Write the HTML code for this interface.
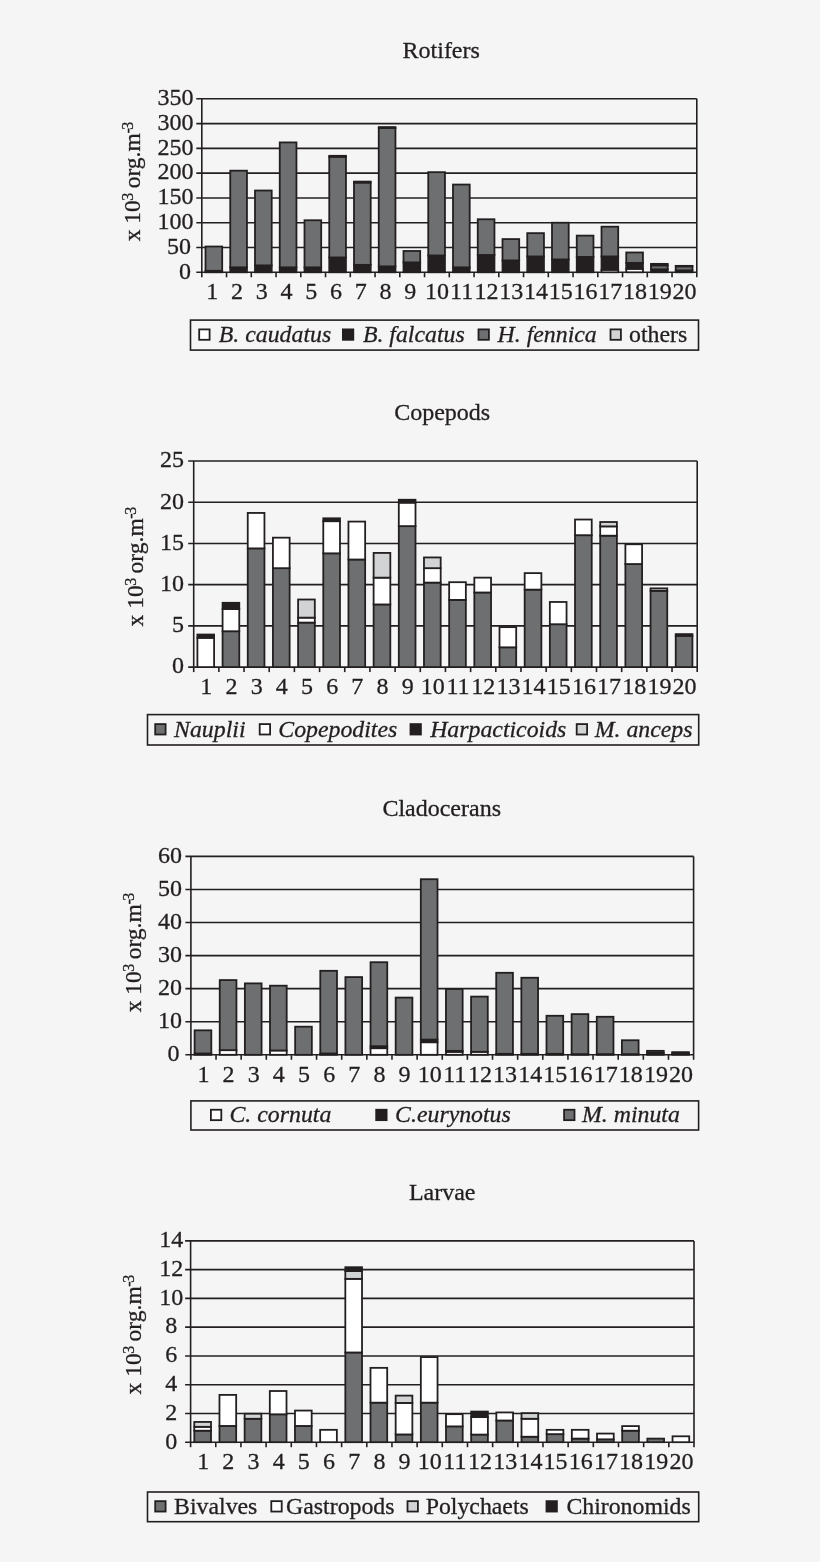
<!DOCTYPE html>
<html><head><meta charset="utf-8"><style>
html,body{margin:0;padding:0;background:#f5f5f5;}
svg{display:block;will-change:transform;}
.t{font-family:"Liberation Serif", serif;font-size:23.5px;fill:#231f20;}
.ti{font-family:"Liberation Serif", serif;font-size:23.8px;font-style:italic;fill:#231f20;}
.lt{font-family:"Liberation Serif", serif;font-size:23.8px;fill:#231f20;}
.sup{font-size:16px;}
.tt{font-family:"Liberation Serif", serif;font-size:24px;fill:#231f20;}
.tk{font-family:"Liberation Serif", serif;font-size:24px;fill:#231f20;}
.s{stroke:#231f20;stroke-width:1.6;}
.b{stroke:#231f20;stroke-width:1.8;}
.lb{stroke:#231f20;stroke-width:1.6;}
.lm{stroke:#231f20;stroke-width:1.8;}
text{stroke:#231f20;stroke-width:0.3px;}
</style></head><body>
<svg width="820" height="1562" viewBox="0 0 820 1562">
<rect width="820" height="1562" fill="#f5f5f5"/>
<text x="441.2" y="57.8" text-anchor="middle" class="tt">Rotifers</text>
<line x1="196.3" y1="272.3" x2="696.8" y2="272.3" class="s"/>
<text x="190.9" y="278.6" text-anchor="end" class="tk">0</text>
<line x1="196.3" y1="247.51" x2="696.8" y2="247.51" class="s"/>
<text x="190.9" y="253.81" text-anchor="end" class="tk">50</text>
<line x1="196.3" y1="222.73" x2="696.8" y2="222.73" class="s"/>
<text x="193.5" y="229.03" text-anchor="end" class="tk">100</text>
<line x1="196.3" y1="197.94" x2="696.8" y2="197.94" class="s"/>
<text x="193.5" y="204.24" text-anchor="end" class="tk">150</text>
<line x1="196.3" y1="173.16" x2="696.8" y2="173.16" class="s"/>
<text x="193.5" y="179.46" text-anchor="end" class="tk">200</text>
<line x1="196.3" y1="148.37" x2="696.8" y2="148.37" class="s"/>
<text x="193.5" y="154.67" text-anchor="end" class="tk">250</text>
<line x1="196.3" y1="123.59" x2="696.8" y2="123.59" class="s"/>
<text x="193.5" y="129.89" text-anchor="end" class="tk">300</text>
<line x1="196.3" y1="98.8" x2="696.8" y2="98.8" class="s"/>
<text x="193.5" y="105.1" text-anchor="end" class="tk">350</text>
<line x1="201.8" y1="98.8" x2="201.8" y2="277.3" class="s"/>
<line x1="696.8" y1="98.8" x2="696.8" y2="277.3" class="s"/>
<line x1="226.55" y1="272.3" x2="226.55" y2="277.3" class="s"/>
<line x1="251.3" y1="272.3" x2="251.3" y2="277.3" class="s"/>
<line x1="276.05" y1="272.3" x2="276.05" y2="277.3" class="s"/>
<line x1="300.8" y1="272.3" x2="300.8" y2="277.3" class="s"/>
<line x1="325.55" y1="272.3" x2="325.55" y2="277.3" class="s"/>
<line x1="350.3" y1="272.3" x2="350.3" y2="277.3" class="s"/>
<line x1="375.05" y1="272.3" x2="375.05" y2="277.3" class="s"/>
<line x1="399.8" y1="272.3" x2="399.8" y2="277.3" class="s"/>
<line x1="424.55" y1="272.3" x2="424.55" y2="277.3" class="s"/>
<line x1="449.3" y1="272.3" x2="449.3" y2="277.3" class="s"/>
<line x1="474.05" y1="272.3" x2="474.05" y2="277.3" class="s"/>
<line x1="498.8" y1="272.3" x2="498.8" y2="277.3" class="s"/>
<line x1="523.55" y1="272.3" x2="523.55" y2="277.3" class="s"/>
<line x1="548.3" y1="272.3" x2="548.3" y2="277.3" class="s"/>
<line x1="573.05" y1="272.3" x2="573.05" y2="277.3" class="s"/>
<line x1="597.8" y1="272.3" x2="597.8" y2="277.3" class="s"/>
<line x1="622.55" y1="272.3" x2="622.55" y2="277.3" class="s"/>
<line x1="647.3" y1="272.3" x2="647.3" y2="277.3" class="s"/>
<line x1="672.05" y1="272.3" x2="672.05" y2="277.3" class="s"/>
<rect x="205.5" y="270.81" width="16.7" height="1.49" fill="#231f20" class="b"/>
<rect x="205.5" y="246.52" width="16.7" height="24.29" fill="#6e6f70" class="b"/>
<rect x="230.25" y="267.34" width="16.7" height="4.96" fill="#231f20" class="b"/>
<rect x="230.25" y="170.68" width="16.7" height="96.66" fill="#6e6f70" class="b"/>
<rect x="255" y="265.36" width="16.7" height="6.94" fill="#231f20" class="b"/>
<rect x="255" y="190.51" width="16.7" height="74.85" fill="#6e6f70" class="b"/>
<rect x="279.75" y="267.34" width="16.7" height="4.96" fill="#231f20" class="b"/>
<rect x="279.75" y="142.42" width="16.7" height="124.92" fill="#6e6f70" class="b"/>
<rect x="304.5" y="267.34" width="16.7" height="4.96" fill="#231f20" class="b"/>
<rect x="304.5" y="220.25" width="16.7" height="47.09" fill="#6e6f70" class="b"/>
<rect x="329.25" y="257.43" width="16.7" height="14.87" fill="#231f20" class="b"/>
<rect x="329.25" y="156.8" width="16.7" height="100.63" fill="#6e6f70" class="b"/>
<rect x="329.25" y="155.81" width="16.7" height="0.99" fill="#d1d3d4" class="b"/>
<rect x="354" y="264.86" width="16.7" height="7.44" fill="#231f20" class="b"/>
<rect x="354" y="182.58" width="16.7" height="82.29" fill="#6e6f70" class="b"/>
<rect x="354" y="181.58" width="16.7" height="0.99" fill="#d1d3d4" class="b"/>
<rect x="378.75" y="266.35" width="16.7" height="5.95" fill="#231f20" class="b"/>
<rect x="378.75" y="128.05" width="16.7" height="138.3" fill="#6e6f70" class="b"/>
<rect x="378.75" y="127.06" width="16.7" height="0.99" fill="#d1d3d4" class="b"/>
<rect x="403.5" y="262.39" width="16.7" height="9.91" fill="#231f20" class="b"/>
<rect x="403.5" y="250.98" width="16.7" height="11.4" fill="#6e6f70" class="b"/>
<rect x="428.25" y="255.45" width="16.7" height="16.85" fill="#231f20" class="b"/>
<rect x="428.25" y="172.17" width="16.7" height="83.28" fill="#6e6f70" class="b"/>
<rect x="453" y="267.34" width="16.7" height="4.96" fill="#231f20" class="b"/>
<rect x="453" y="184.56" width="16.7" height="82.78" fill="#6e6f70" class="b"/>
<rect x="477.75" y="254.95" width="16.7" height="17.35" fill="#231f20" class="b"/>
<rect x="477.75" y="219.26" width="16.7" height="35.69" fill="#6e6f70" class="b"/>
<rect x="502.5" y="260.4" width="16.7" height="11.9" fill="#231f20" class="b"/>
<rect x="502.5" y="239.09" width="16.7" height="21.32" fill="#6e6f70" class="b"/>
<rect x="527.25" y="256.44" width="16.7" height="15.86" fill="#231f20" class="b"/>
<rect x="527.25" y="233.14" width="16.7" height="23.3" fill="#6e6f70" class="b"/>
<rect x="552" y="259.41" width="16.7" height="12.89" fill="#231f20" class="b"/>
<rect x="552" y="222.73" width="16.7" height="36.68" fill="#6e6f70" class="b"/>
<rect x="576.75" y="256.93" width="16.7" height="15.37" fill="#231f20" class="b"/>
<rect x="576.75" y="235.62" width="16.7" height="21.32" fill="#6e6f70" class="b"/>
<rect x="601.5" y="269.82" width="16.7" height="2.48" fill="#ffffff" class="b"/>
<rect x="601.5" y="256.44" width="16.7" height="13.38" fill="#231f20" class="b"/>
<rect x="601.5" y="226.69" width="16.7" height="29.74" fill="#6e6f70" class="b"/>
<rect x="626.25" y="268.83" width="16.7" height="3.47" fill="#ffffff" class="b"/>
<rect x="626.25" y="262.88" width="16.7" height="5.95" fill="#231f20" class="b"/>
<rect x="626.25" y="252.47" width="16.7" height="10.41" fill="#6e6f70" class="b"/>
<rect x="651" y="269.33" width="16.7" height="2.97" fill="#231f20" class="b"/>
<rect x="651" y="265.36" width="16.7" height="3.97" fill="#6e6f70" class="b"/>
<rect x="651" y="263.87" width="16.7" height="1.49" fill="#d1d3d4" class="b"/>
<rect x="675.75" y="270.32" width="16.7" height="1.98" fill="#231f20" class="b"/>
<rect x="675.75" y="266.35" width="16.7" height="3.97" fill="#6e6f70" class="b"/>
<rect x="675.75" y="265.86" width="16.7" height="0.5" fill="#d1d3d4" class="b"/>
<text x="212.18" y="298.8" text-anchor="middle" class="tk">1</text>
<text x="236.93" y="298.8" text-anchor="middle" class="tk">2</text>
<text x="261.68" y="298.8" text-anchor="middle" class="tk">3</text>
<text x="286.43" y="298.8" text-anchor="middle" class="tk">4</text>
<text x="311.18" y="298.8" text-anchor="middle" class="tk">5</text>
<text x="335.92" y="298.8" text-anchor="middle" class="tk">6</text>
<text x="360.67" y="298.8" text-anchor="middle" class="tk">7</text>
<text x="385.42" y="298.8" text-anchor="middle" class="tk">8</text>
<text x="410.17" y="298.8" text-anchor="middle" class="tk">9</text>
<text x="436.92" y="298.8" text-anchor="middle" class="tk">10</text>
<text x="461.67" y="298.8" text-anchor="middle" class="tk">11</text>
<text x="486.42" y="298.8" text-anchor="middle" class="tk">12</text>
<text x="511.17" y="298.8" text-anchor="middle" class="tk">13</text>
<text x="535.92" y="298.8" text-anchor="middle" class="tk">14</text>
<text x="560.67" y="298.8" text-anchor="middle" class="tk">15</text>
<text x="585.42" y="298.8" text-anchor="middle" class="tk">16</text>
<text x="610.17" y="298.8" text-anchor="middle" class="tk">17</text>
<text x="634.92" y="298.8" text-anchor="middle" class="tk">18</text>
<text x="659.67" y="298.8" text-anchor="middle" class="tk">19</text>
<text x="684.42" y="298.8" text-anchor="middle" class="tk">20</text>
<text transform="translate(140.1,241.3) rotate(-90)" x="0" y="0" class="t">x 10<tspan class="sup" dy="-7" dx="-0.5">3</tspan><tspan dy="7" dx="-1.5"> org.m</tspan><tspan class="sup" dy="-7" dx="-0.3" letter-spacing="-1.5">-3</tspan></text>
<rect x="190.5" y="320.1" width="508" height="30" fill="none" class="lb"/>
<rect x="199.2" y="329.4" width="10.4" height="10.4" fill="#ffffff" class="lm"/>
<text x="218.8" y="341.9" class="ti">B. caudatus</text>
<rect x="342.9" y="329.4" width="10.4" height="10.4" fill="#231f20" class="lm"/>
<text x="362.9" y="341.9" class="ti">B. falcatus</text>
<rect x="478.5" y="329.4" width="10.4" height="10.4" fill="#6e6f70" class="lm"/>
<text x="497.6" y="341.9" class="ti">H. fennica</text>
<rect x="610.5" y="329.4" width="10.4" height="10.4" fill="#d1d3d4" class="lm"/>
<text x="629" y="341.9" class="lt">others</text>
<text x="442.2" y="419.7" text-anchor="middle" class="tt">Copepods</text>
<line x1="188.2" y1="667.1" x2="697.2" y2="667.1" class="s"/>
<text x="183.9" y="673.4" text-anchor="end" class="tk">0</text>
<line x1="188.2" y1="625.88" x2="697.2" y2="625.88" class="s"/>
<text x="183.9" y="632.18" text-anchor="end" class="tk">5</text>
<line x1="188.2" y1="584.66" x2="697.2" y2="584.66" class="s"/>
<text x="183.9" y="590.96" text-anchor="end" class="tk">10</text>
<line x1="188.2" y1="543.44" x2="697.2" y2="543.44" class="s"/>
<text x="183.9" y="549.74" text-anchor="end" class="tk">15</text>
<line x1="188.2" y1="502.22" x2="697.2" y2="502.22" class="s"/>
<text x="183.9" y="508.52" text-anchor="end" class="tk">20</text>
<line x1="188.2" y1="461" x2="697.2" y2="461" class="s"/>
<text x="183.9" y="467.3" text-anchor="end" class="tk">25</text>
<line x1="193.7" y1="461" x2="193.7" y2="672.1" class="s"/>
<line x1="697.2" y1="461" x2="697.2" y2="672.1" class="s"/>
<line x1="218.88" y1="667.1" x2="218.88" y2="672.1" class="s"/>
<line x1="244.05" y1="667.1" x2="244.05" y2="672.1" class="s"/>
<line x1="269.23" y1="667.1" x2="269.23" y2="672.1" class="s"/>
<line x1="294.4" y1="667.1" x2="294.4" y2="672.1" class="s"/>
<line x1="319.58" y1="667.1" x2="319.58" y2="672.1" class="s"/>
<line x1="344.75" y1="667.1" x2="344.75" y2="672.1" class="s"/>
<line x1="369.93" y1="667.1" x2="369.93" y2="672.1" class="s"/>
<line x1="395.1" y1="667.1" x2="395.1" y2="672.1" class="s"/>
<line x1="420.28" y1="667.1" x2="420.28" y2="672.1" class="s"/>
<line x1="445.45" y1="667.1" x2="445.45" y2="672.1" class="s"/>
<line x1="470.63" y1="667.1" x2="470.63" y2="672.1" class="s"/>
<line x1="495.8" y1="667.1" x2="495.8" y2="672.1" class="s"/>
<line x1="520.98" y1="667.1" x2="520.98" y2="672.1" class="s"/>
<line x1="546.15" y1="667.1" x2="546.15" y2="672.1" class="s"/>
<line x1="571.33" y1="667.1" x2="571.33" y2="672.1" class="s"/>
<line x1="596.5" y1="667.1" x2="596.5" y2="672.1" class="s"/>
<line x1="621.68" y1="667.1" x2="621.68" y2="672.1" class="s"/>
<line x1="646.85" y1="667.1" x2="646.85" y2="672.1" class="s"/>
<line x1="672.03" y1="667.1" x2="672.03" y2="672.1" class="s"/>
<rect x="197.4" y="637.83" width="16.7" height="29.27" fill="#ffffff" class="b"/>
<rect x="197.4" y="634.54" width="16.7" height="3.3" fill="#231f20" class="b"/>
<rect x="222.58" y="631.24" width="16.7" height="35.86" fill="#6e6f70" class="b"/>
<rect x="222.58" y="608.98" width="16.7" height="22.26" fill="#ffffff" class="b"/>
<rect x="222.58" y="602.8" width="16.7" height="6.18" fill="#231f20" class="b"/>
<rect x="247.75" y="548.39" width="16.7" height="118.71" fill="#6e6f70" class="b"/>
<rect x="247.75" y="512.94" width="16.7" height="35.45" fill="#ffffff" class="b"/>
<rect x="272.93" y="568.17" width="16.7" height="98.93" fill="#6e6f70" class="b"/>
<rect x="272.93" y="537.67" width="16.7" height="30.5" fill="#ffffff" class="b"/>
<rect x="298.1" y="622.58" width="16.7" height="44.52" fill="#6e6f70" class="b"/>
<rect x="298.1" y="617.64" width="16.7" height="4.95" fill="#ffffff" class="b"/>
<rect x="298.1" y="599.5" width="16.7" height="18.14" fill="#d1d3d4" class="b"/>
<rect x="323.28" y="553.33" width="16.7" height="113.77" fill="#6e6f70" class="b"/>
<rect x="323.28" y="521.18" width="16.7" height="32.15" fill="#ffffff" class="b"/>
<rect x="323.28" y="518.3" width="16.7" height="2.89" fill="#231f20" class="b"/>
<rect x="348.45" y="559.52" width="16.7" height="107.58" fill="#6e6f70" class="b"/>
<rect x="348.45" y="521.59" width="16.7" height="37.92" fill="#ffffff" class="b"/>
<rect x="373.62" y="604.45" width="16.7" height="62.65" fill="#6e6f70" class="b"/>
<rect x="373.62" y="577.65" width="16.7" height="26.79" fill="#ffffff" class="b"/>
<rect x="373.62" y="552.92" width="16.7" height="24.73" fill="#d1d3d4" class="b"/>
<rect x="398.8" y="526.13" width="16.7" height="140.97" fill="#6e6f70" class="b"/>
<rect x="398.8" y="502.63" width="16.7" height="23.5" fill="#ffffff" class="b"/>
<rect x="398.8" y="499.75" width="16.7" height="2.89" fill="#231f20" class="b"/>
<rect x="423.98" y="582.6" width="16.7" height="84.5" fill="#6e6f70" class="b"/>
<rect x="423.98" y="568.17" width="16.7" height="14.43" fill="#ffffff" class="b"/>
<rect x="423.98" y="557.45" width="16.7" height="10.72" fill="#d1d3d4" class="b"/>
<rect x="449.15" y="599.91" width="16.7" height="67.19" fill="#6e6f70" class="b"/>
<rect x="449.15" y="582.19" width="16.7" height="17.72" fill="#ffffff" class="b"/>
<rect x="474.33" y="592.49" width="16.7" height="74.61" fill="#6e6f70" class="b"/>
<rect x="474.33" y="577.65" width="16.7" height="14.84" fill="#ffffff" class="b"/>
<rect x="499.5" y="647.31" width="16.7" height="19.79" fill="#6e6f70" class="b"/>
<rect x="499.5" y="627.12" width="16.7" height="20.2" fill="#ffffff" class="b"/>
<rect x="524.67" y="589.61" width="16.7" height="77.49" fill="#6e6f70" class="b"/>
<rect x="524.67" y="573.12" width="16.7" height="16.49" fill="#ffffff" class="b"/>
<rect x="549.85" y="624.23" width="16.7" height="42.87" fill="#6e6f70" class="b"/>
<rect x="549.85" y="601.97" width="16.7" height="22.26" fill="#ffffff" class="b"/>
<rect x="575.02" y="535.2" width="16.7" height="131.9" fill="#6e6f70" class="b"/>
<rect x="575.02" y="519.53" width="16.7" height="15.66" fill="#ffffff" class="b"/>
<rect x="600.2" y="535.69" width="16.7" height="131.41" fill="#6e6f70" class="b"/>
<rect x="600.2" y="526.37" width="16.7" height="9.32" fill="#ffffff" class="b"/>
<rect x="600.2" y="522.01" width="16.7" height="4.37" fill="#d1d3d4" class="b"/>
<rect x="625.38" y="564.05" width="16.7" height="103.05" fill="#6e6f70" class="b"/>
<rect x="625.38" y="544.26" width="16.7" height="19.79" fill="#ffffff" class="b"/>
<rect x="650.55" y="590.84" width="16.7" height="76.26" fill="#6e6f70" class="b"/>
<rect x="650.55" y="588.37" width="16.7" height="2.47" fill="#d1d3d4" class="b"/>
<rect x="675.73" y="635.77" width="16.7" height="31.33" fill="#6e6f70" class="b"/>
<rect x="675.73" y="634.12" width="16.7" height="1.65" fill="#231f20" class="b"/>
<text x="206.29" y="693.6" text-anchor="middle" class="tk">1</text>
<text x="231.46" y="693.6" text-anchor="middle" class="tk">2</text>
<text x="256.64" y="693.6" text-anchor="middle" class="tk">3</text>
<text x="281.81" y="693.6" text-anchor="middle" class="tk">4</text>
<text x="306.99" y="693.6" text-anchor="middle" class="tk">5</text>
<text x="332.16" y="693.6" text-anchor="middle" class="tk">6</text>
<text x="357.34" y="693.6" text-anchor="middle" class="tk">7</text>
<text x="382.51" y="693.6" text-anchor="middle" class="tk">8</text>
<text x="407.69" y="693.6" text-anchor="middle" class="tk">9</text>
<text x="432.86" y="693.6" text-anchor="middle" class="tk">10</text>
<text x="458.04" y="693.6" text-anchor="middle" class="tk">11</text>
<text x="483.21" y="693.6" text-anchor="middle" class="tk">12</text>
<text x="508.39" y="693.6" text-anchor="middle" class="tk">13</text>
<text x="533.56" y="693.6" text-anchor="middle" class="tk">14</text>
<text x="558.74" y="693.6" text-anchor="middle" class="tk">15</text>
<text x="583.91" y="693.6" text-anchor="middle" class="tk">16</text>
<text x="609.09" y="693.6" text-anchor="middle" class="tk">17</text>
<text x="634.26" y="693.6" text-anchor="middle" class="tk">18</text>
<text x="659.44" y="693.6" text-anchor="middle" class="tk">19</text>
<text x="684.61" y="693.6" text-anchor="middle" class="tk">20</text>
<text transform="translate(143.3,626.4) rotate(-90)" x="0" y="0" class="t">x 10<tspan class="sup" dy="-7" dx="-0.5">3</tspan><tspan dy="7" dx="-1.5"> org.m</tspan><tspan class="sup" dy="-7" dx="-0.3" letter-spacing="-1.5">-3</tspan></text>
<rect x="147.5" y="714.6" width="551.2" height="30.4" fill="none" class="lb"/>
<rect x="155.2" y="724.1" width="10.4" height="10.4" fill="#6e6f70" class="lm"/>
<text x="174.1" y="736.6" class="ti">Nauplii</text>
<rect x="259.7" y="724.1" width="10.4" height="10.4" fill="#ffffff" class="lm"/>
<text x="278.3" y="736.6" class="ti">Copepodites</text>
<rect x="410.5" y="724.1" width="10.4" height="10.4" fill="#231f20" class="lm"/>
<text x="430.2" y="736.6" class="ti">Harpacticoids</text>
<rect x="576.7" y="724.1" width="10.4" height="10.4" fill="#d1d3d4" class="lm"/>
<text x="594.7" y="736.6" class="ti">M. anceps</text>
<text x="441.7" y="815.6" text-anchor="middle" class="tt">Cladocerans</text>
<line x1="185.4" y1="1054.8" x2="693.6" y2="1054.8" class="s"/>
<text x="179.6" y="1061.1" text-anchor="end" class="tk">0</text>
<line x1="185.4" y1="1021.73" x2="693.6" y2="1021.73" class="s"/>
<text x="182.1" y="1028.03" text-anchor="end" class="tk">10</text>
<line x1="185.4" y1="988.67" x2="693.6" y2="988.67" class="s"/>
<text x="182.1" y="994.97" text-anchor="end" class="tk">20</text>
<line x1="185.4" y1="955.6" x2="693.6" y2="955.6" class="s"/>
<text x="182.1" y="961.9" text-anchor="end" class="tk">30</text>
<line x1="185.4" y1="922.53" x2="693.6" y2="922.53" class="s"/>
<text x="182.1" y="928.83" text-anchor="end" class="tk">40</text>
<line x1="185.4" y1="889.47" x2="693.6" y2="889.47" class="s"/>
<text x="182.1" y="895.77" text-anchor="end" class="tk">50</text>
<line x1="185.4" y1="856.4" x2="693.6" y2="856.4" class="s"/>
<text x="182.1" y="862.7" text-anchor="end" class="tk">60</text>
<line x1="190.9" y1="856.4" x2="190.9" y2="1059.8" class="s"/>
<line x1="693.6" y1="856.4" x2="693.6" y2="1059.8" class="s"/>
<line x1="216.03" y1="1054.8" x2="216.03" y2="1059.8" class="s"/>
<line x1="241.17" y1="1054.8" x2="241.17" y2="1059.8" class="s"/>
<line x1="266.31" y1="1054.8" x2="266.31" y2="1059.8" class="s"/>
<line x1="291.44" y1="1054.8" x2="291.44" y2="1059.8" class="s"/>
<line x1="316.58" y1="1054.8" x2="316.58" y2="1059.8" class="s"/>
<line x1="341.71" y1="1054.8" x2="341.71" y2="1059.8" class="s"/>
<line x1="366.85" y1="1054.8" x2="366.85" y2="1059.8" class="s"/>
<line x1="391.98" y1="1054.8" x2="391.98" y2="1059.8" class="s"/>
<line x1="417.12" y1="1054.8" x2="417.12" y2="1059.8" class="s"/>
<line x1="442.25" y1="1054.8" x2="442.25" y2="1059.8" class="s"/>
<line x1="467.38" y1="1054.8" x2="467.38" y2="1059.8" class="s"/>
<line x1="492.52" y1="1054.8" x2="492.52" y2="1059.8" class="s"/>
<line x1="517.65" y1="1054.8" x2="517.65" y2="1059.8" class="s"/>
<line x1="542.79" y1="1054.8" x2="542.79" y2="1059.8" class="s"/>
<line x1="567.93" y1="1054.8" x2="567.93" y2="1059.8" class="s"/>
<line x1="593.06" y1="1054.8" x2="593.06" y2="1059.8" class="s"/>
<line x1="618.2" y1="1054.8" x2="618.2" y2="1059.8" class="s"/>
<line x1="643.33" y1="1054.8" x2="643.33" y2="1059.8" class="s"/>
<line x1="668.47" y1="1054.8" x2="668.47" y2="1059.8" class="s"/>
<rect x="194.6" y="1053.48" width="16.7" height="1.32" fill="#231f20" class="b"/>
<rect x="194.6" y="1030.33" width="16.7" height="23.15" fill="#6e6f70" class="b"/>
<rect x="219.74" y="1050.17" width="16.7" height="4.63" fill="#ffffff" class="b"/>
<rect x="219.74" y="980.07" width="16.7" height="70.1" fill="#6e6f70" class="b"/>
<rect x="244.87" y="983.38" width="16.7" height="71.42" fill="#6e6f70" class="b"/>
<rect x="270" y="1050.5" width="16.7" height="4.3" fill="#ffffff" class="b"/>
<rect x="270" y="985.69" width="16.7" height="64.81" fill="#6e6f70" class="b"/>
<rect x="295.14" y="1026.69" width="16.7" height="28.11" fill="#6e6f70" class="b"/>
<rect x="320.28" y="1053.48" width="16.7" height="1.32" fill="#231f20" class="b"/>
<rect x="320.28" y="970.81" width="16.7" height="82.67" fill="#6e6f70" class="b"/>
<rect x="345.41" y="977.09" width="16.7" height="77.71" fill="#6e6f70" class="b"/>
<rect x="370.55" y="1048.19" width="16.7" height="6.61" fill="#ffffff" class="b"/>
<rect x="370.55" y="1046.2" width="16.7" height="1.98" fill="#231f20" class="b"/>
<rect x="370.55" y="962.21" width="16.7" height="83.99" fill="#6e6f70" class="b"/>
<rect x="395.68" y="997.59" width="16.7" height="57.21" fill="#6e6f70" class="b"/>
<rect x="420.81" y="1042.23" width="16.7" height="12.57" fill="#ffffff" class="b"/>
<rect x="420.81" y="1039.59" width="16.7" height="2.65" fill="#231f20" class="b"/>
<rect x="420.81" y="879.22" width="16.7" height="160.37" fill="#6e6f70" class="b"/>
<rect x="445.95" y="1051.82" width="16.7" height="2.98" fill="#ffffff" class="b"/>
<rect x="445.95" y="1050.83" width="16.7" height="0.99" fill="#231f20" class="b"/>
<rect x="445.95" y="989" width="16.7" height="61.83" fill="#6e6f70" class="b"/>
<rect x="471.08" y="1051.82" width="16.7" height="2.98" fill="#ffffff" class="b"/>
<rect x="471.08" y="996.6" width="16.7" height="55.22" fill="#6e6f70" class="b"/>
<rect x="496.22" y="1053.81" width="16.7" height="0.99" fill="#231f20" class="b"/>
<rect x="496.22" y="972.79" width="16.7" height="81.01" fill="#6e6f70" class="b"/>
<rect x="521.35" y="1053.81" width="16.7" height="0.99" fill="#231f20" class="b"/>
<rect x="521.35" y="977.75" width="16.7" height="76.05" fill="#6e6f70" class="b"/>
<rect x="546.49" y="1053.81" width="16.7" height="0.99" fill="#231f20" class="b"/>
<rect x="546.49" y="1015.78" width="16.7" height="38.03" fill="#6e6f70" class="b"/>
<rect x="571.62" y="1054.14" width="16.7" height="0.66" fill="#231f20" class="b"/>
<rect x="571.62" y="1014.13" width="16.7" height="40.01" fill="#6e6f70" class="b"/>
<rect x="596.76" y="1054.14" width="16.7" height="0.66" fill="#231f20" class="b"/>
<rect x="596.76" y="1016.77" width="16.7" height="37.37" fill="#6e6f70" class="b"/>
<rect x="621.89" y="1054.14" width="16.7" height="0.66" fill="#231f20" class="b"/>
<rect x="621.89" y="1040.25" width="16.7" height="13.89" fill="#6e6f70" class="b"/>
<rect x="647.03" y="1052.82" width="16.7" height="1.98" fill="#231f20" class="b"/>
<rect x="647.03" y="1050.83" width="16.7" height="1.98" fill="#6e6f70" class="b"/>
<rect x="672.16" y="1053.48" width="16.7" height="1.32" fill="#231f20" class="b"/>
<rect x="672.16" y="1052.15" width="16.7" height="1.32" fill="#6e6f70" class="b"/>
<text x="203.47" y="1082.3" text-anchor="middle" class="tk">1</text>
<text x="228.6" y="1082.3" text-anchor="middle" class="tk">2</text>
<text x="253.74" y="1082.3" text-anchor="middle" class="tk">3</text>
<text x="278.87" y="1082.3" text-anchor="middle" class="tk">4</text>
<text x="304.01" y="1082.3" text-anchor="middle" class="tk">5</text>
<text x="329.14" y="1082.3" text-anchor="middle" class="tk">6</text>
<text x="354.28" y="1082.3" text-anchor="middle" class="tk">7</text>
<text x="379.41" y="1082.3" text-anchor="middle" class="tk">8</text>
<text x="404.55" y="1082.3" text-anchor="middle" class="tk">9</text>
<text x="429.68" y="1082.3" text-anchor="middle" class="tk">10</text>
<text x="454.82" y="1082.3" text-anchor="middle" class="tk">11</text>
<text x="479.95" y="1082.3" text-anchor="middle" class="tk">12</text>
<text x="505.09" y="1082.3" text-anchor="middle" class="tk">13</text>
<text x="530.22" y="1082.3" text-anchor="middle" class="tk">14</text>
<text x="555.36" y="1082.3" text-anchor="middle" class="tk">15</text>
<text x="580.49" y="1082.3" text-anchor="middle" class="tk">16</text>
<text x="605.63" y="1082.3" text-anchor="middle" class="tk">17</text>
<text x="630.76" y="1082.3" text-anchor="middle" class="tk">18</text>
<text x="655.9" y="1082.3" text-anchor="middle" class="tk">19</text>
<text x="681.03" y="1082.3" text-anchor="middle" class="tk">20</text>
<text transform="translate(141,1012.3) rotate(-90)" x="0" y="0" class="t">x 10<tspan class="sup" dy="-7" dx="-0.5">3</tspan><tspan dy="7" dx="-1.5"> org.m</tspan><tspan class="sup" dy="-7" dx="-0.3" letter-spacing="-1.5">-3</tspan></text>
<rect x="190.9" y="1100.9" width="507.7" height="29.1" fill="none" class="lb"/>
<rect x="210.9" y="1109.75" width="10.4" height="10.4" fill="#ffffff" class="lm"/>
<text x="229.5" y="1122.25" class="ti">C. cornuta</text>
<rect x="376.2" y="1109.75" width="10.4" height="10.4" fill="#231f20" class="lm"/>
<text x="395.1" y="1122.25" class="ti">C.eurynotus</text>
<rect x="564.1" y="1109.75" width="10.4" height="10.4" fill="#6e6f70" class="lm"/>
<text x="582" y="1122.25" class="ti">M. minuta</text>
<text x="442.2" y="1199.7" text-anchor="middle" class="tt">Larvae</text>
<line x1="185.1" y1="1442.2" x2="694" y2="1442.2" class="s"/>
<text x="171.3" y="1448.5" text-anchor="middle" class="tk">0</text>
<line x1="185.1" y1="1413.44" x2="694" y2="1413.44" class="s"/>
<text x="171.3" y="1419.74" text-anchor="middle" class="tk">2</text>
<line x1="185.1" y1="1384.69" x2="694" y2="1384.69" class="s"/>
<text x="171.3" y="1390.99" text-anchor="middle" class="tk">4</text>
<line x1="185.1" y1="1355.93" x2="694" y2="1355.93" class="s"/>
<text x="171.3" y="1362.23" text-anchor="middle" class="tk">6</text>
<line x1="185.1" y1="1327.17" x2="694" y2="1327.17" class="s"/>
<text x="171.3" y="1333.47" text-anchor="middle" class="tk">8</text>
<line x1="185.1" y1="1298.41" x2="694" y2="1298.41" class="s"/>
<text x="171.3" y="1304.71" text-anchor="middle" class="tk">10</text>
<line x1="185.1" y1="1269.66" x2="694" y2="1269.66" class="s"/>
<text x="171.3" y="1275.96" text-anchor="middle" class="tk">12</text>
<line x1="185.1" y1="1240.9" x2="694" y2="1240.9" class="s"/>
<text x="171.3" y="1247.2" text-anchor="middle" class="tk">14</text>
<line x1="190.6" y1="1240.9" x2="190.6" y2="1447.2" class="s"/>
<line x1="694" y1="1240.9" x2="694" y2="1447.2" class="s"/>
<line x1="215.77" y1="1442.2" x2="215.77" y2="1447.2" class="s"/>
<line x1="240.94" y1="1442.2" x2="240.94" y2="1447.2" class="s"/>
<line x1="266.11" y1="1442.2" x2="266.11" y2="1447.2" class="s"/>
<line x1="291.28" y1="1442.2" x2="291.28" y2="1447.2" class="s"/>
<line x1="316.45" y1="1442.2" x2="316.45" y2="1447.2" class="s"/>
<line x1="341.62" y1="1442.2" x2="341.62" y2="1447.2" class="s"/>
<line x1="366.79" y1="1442.2" x2="366.79" y2="1447.2" class="s"/>
<line x1="391.96" y1="1442.2" x2="391.96" y2="1447.2" class="s"/>
<line x1="417.13" y1="1442.2" x2="417.13" y2="1447.2" class="s"/>
<line x1="442.3" y1="1442.2" x2="442.3" y2="1447.2" class="s"/>
<line x1="467.47" y1="1442.2" x2="467.47" y2="1447.2" class="s"/>
<line x1="492.64" y1="1442.2" x2="492.64" y2="1447.2" class="s"/>
<line x1="517.81" y1="1442.2" x2="517.81" y2="1447.2" class="s"/>
<line x1="542.98" y1="1442.2" x2="542.98" y2="1447.2" class="s"/>
<line x1="568.15" y1="1442.2" x2="568.15" y2="1447.2" class="s"/>
<line x1="593.32" y1="1442.2" x2="593.32" y2="1447.2" class="s"/>
<line x1="618.49" y1="1442.2" x2="618.49" y2="1447.2" class="s"/>
<line x1="643.66" y1="1442.2" x2="643.66" y2="1447.2" class="s"/>
<line x1="668.83" y1="1442.2" x2="668.83" y2="1447.2" class="s"/>
<rect x="194.3" y="1430.7" width="16.7" height="11.5" fill="#6e6f70" class="b"/>
<rect x="194.3" y="1426.81" width="16.7" height="3.88" fill="#ffffff" class="b"/>
<rect x="194.3" y="1421.93" width="16.7" height="4.89" fill="#d1d3d4" class="b"/>
<rect x="219.47" y="1425.95" width="16.7" height="16.25" fill="#6e6f70" class="b"/>
<rect x="219.47" y="1394.89" width="16.7" height="31.06" fill="#ffffff" class="b"/>
<rect x="244.64" y="1418.76" width="16.7" height="23.44" fill="#6e6f70" class="b"/>
<rect x="244.64" y="1413.73" width="16.7" height="5.03" fill="#d1d3d4" class="b"/>
<rect x="269.81" y="1414.31" width="16.7" height="27.89" fill="#6e6f70" class="b"/>
<rect x="269.81" y="1391.01" width="16.7" height="23.29" fill="#ffffff" class="b"/>
<rect x="294.98" y="1425.95" width="16.7" height="16.25" fill="#6e6f70" class="b"/>
<rect x="294.98" y="1410.57" width="16.7" height="15.39" fill="#ffffff" class="b"/>
<rect x="320.15" y="1429.83" width="16.7" height="12.37" fill="#ffffff" class="b"/>
<rect x="345.32" y="1352.48" width="16.7" height="89.72" fill="#6e6f70" class="b"/>
<rect x="345.32" y="1278.86" width="16.7" height="73.62" fill="#ffffff" class="b"/>
<rect x="345.32" y="1271.1" width="16.7" height="7.76" fill="#d1d3d4" class="b"/>
<rect x="345.32" y="1267.21" width="16.7" height="3.88" fill="#231f20" class="b"/>
<rect x="370.49" y="1402.66" width="16.7" height="39.54" fill="#6e6f70" class="b"/>
<rect x="370.49" y="1367.86" width="16.7" height="34.8" fill="#ffffff" class="b"/>
<rect x="395.66" y="1434.44" width="16.7" height="7.76" fill="#6e6f70" class="b"/>
<rect x="395.66" y="1402.95" width="16.7" height="31.49" fill="#ffffff" class="b"/>
<rect x="395.66" y="1395.61" width="16.7" height="7.33" fill="#d1d3d4" class="b"/>
<rect x="420.83" y="1402.66" width="16.7" height="39.54" fill="#6e6f70" class="b"/>
<rect x="420.83" y="1357.08" width="16.7" height="45.58" fill="#ffffff" class="b"/>
<rect x="446" y="1426.38" width="16.7" height="15.82" fill="#6e6f70" class="b"/>
<rect x="446" y="1414.16" width="16.7" height="12.22" fill="#ffffff" class="b"/>
<rect x="471.17" y="1434.58" width="16.7" height="7.62" fill="#6e6f70" class="b"/>
<rect x="471.17" y="1417.04" width="16.7" height="17.54" fill="#ffffff" class="b"/>
<rect x="471.17" y="1411.57" width="16.7" height="5.46" fill="#231f20" class="b"/>
<rect x="496.34" y="1420.49" width="16.7" height="21.71" fill="#6e6f70" class="b"/>
<rect x="496.34" y="1412.44" width="16.7" height="8.05" fill="#ffffff" class="b"/>
<rect x="521.51" y="1436.74" width="16.7" height="5.46" fill="#6e6f70" class="b"/>
<rect x="521.51" y="1418.76" width="16.7" height="17.97" fill="#ffffff" class="b"/>
<rect x="521.51" y="1413.16" width="16.7" height="5.61" fill="#d1d3d4" class="b"/>
<rect x="546.68" y="1434.15" width="16.7" height="8.05" fill="#6e6f70" class="b"/>
<rect x="546.68" y="1429.83" width="16.7" height="4.31" fill="#ffffff" class="b"/>
<rect x="571.85" y="1438.61" width="16.7" height="3.59" fill="#6e6f70" class="b"/>
<rect x="571.85" y="1429.83" width="16.7" height="8.77" fill="#ffffff" class="b"/>
<rect x="597.02" y="1439.32" width="16.7" height="2.88" fill="#6e6f70" class="b"/>
<rect x="597.02" y="1433.57" width="16.7" height="5.75" fill="#ffffff" class="b"/>
<rect x="622.19" y="1430.7" width="16.7" height="11.5" fill="#6e6f70" class="b"/>
<rect x="622.19" y="1426.1" width="16.7" height="4.6" fill="#ffffff" class="b"/>
<rect x="647.36" y="1438.61" width="16.7" height="3.59" fill="#6e6f70" class="b"/>
<rect x="672.53" y="1436.3" width="16.7" height="5.9" fill="#ffffff" class="b"/>
<text x="203.19" y="1468.7" text-anchor="middle" class="tk">1</text>
<text x="228.35" y="1468.7" text-anchor="middle" class="tk">2</text>
<text x="253.52" y="1468.7" text-anchor="middle" class="tk">3</text>
<text x="278.69" y="1468.7" text-anchor="middle" class="tk">4</text>
<text x="303.87" y="1468.7" text-anchor="middle" class="tk">5</text>
<text x="329.03" y="1468.7" text-anchor="middle" class="tk">6</text>
<text x="354.2" y="1468.7" text-anchor="middle" class="tk">7</text>
<text x="379.38" y="1468.7" text-anchor="middle" class="tk">8</text>
<text x="404.54" y="1468.7" text-anchor="middle" class="tk">9</text>
<text x="429.71" y="1468.7" text-anchor="middle" class="tk">10</text>
<text x="454.88" y="1468.7" text-anchor="middle" class="tk">11</text>
<text x="480.05" y="1468.7" text-anchor="middle" class="tk">12</text>
<text x="505.23" y="1468.7" text-anchor="middle" class="tk">13</text>
<text x="530.39" y="1468.7" text-anchor="middle" class="tk">14</text>
<text x="555.56" y="1468.7" text-anchor="middle" class="tk">15</text>
<text x="580.74" y="1468.7" text-anchor="middle" class="tk">16</text>
<text x="605.9" y="1468.7" text-anchor="middle" class="tk">17</text>
<text x="631.07" y="1468.7" text-anchor="middle" class="tk">18</text>
<text x="656.25" y="1468.7" text-anchor="middle" class="tk">19</text>
<text x="681.41" y="1468.7" text-anchor="middle" class="tk">20</text>
<text transform="translate(140.9,1394.4) rotate(-90)" x="0" y="0" class="t">x 10<tspan class="sup" dy="-7" dx="-0.5">3</tspan><tspan dy="7" dx="-1.5"> org.m</tspan><tspan class="sup" dy="-7" dx="-0.3" letter-spacing="-1.5">-3</tspan></text>
<rect x="147.5" y="1492" width="551.2" height="29.7" fill="none" class="lb"/>
<rect x="155.2" y="1501.15" width="10.4" height="10.4" fill="#6e6f70" class="lm"/>
<text x="174.1" y="1513.65" class="lt">Bivalves</text>
<rect x="271.3" y="1501.15" width="10.4" height="10.4" fill="#ffffff" class="lm"/>
<text x="286.1" y="1513.65" class="lt">Gastropods</text>
<rect x="407.5" y="1501.15" width="10.4" height="10.4" fill="#d1d3d4" class="lm"/>
<text x="425.7" y="1513.65" class="lt">Polychaets</text>
<rect x="546.5" y="1501.15" width="10.4" height="10.4" fill="#231f20" class="lm"/>
<text x="566.4" y="1513.65" class="lt">Chironomids</text>
</svg>
</body></html>
